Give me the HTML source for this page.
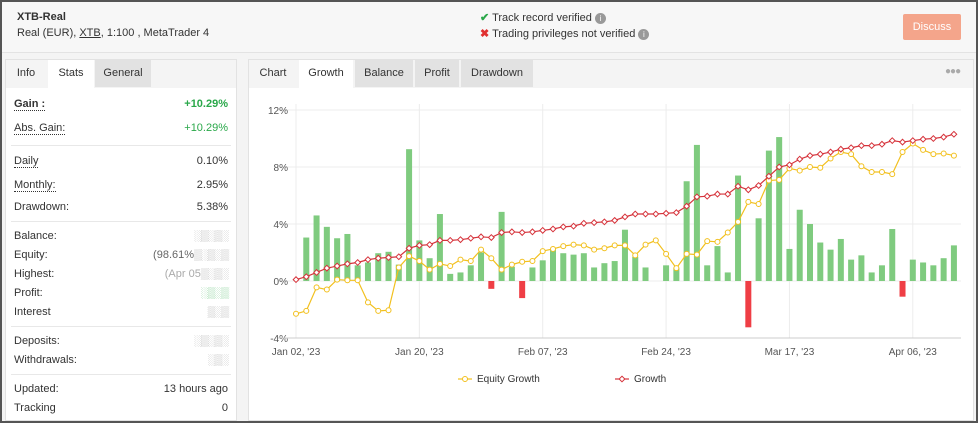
<!DOCTYPE html>
<html><head><meta charset="utf-8"><style>
body{margin:0;width:978px;height:423px;overflow:hidden;font-family:"Liberation Sans",sans-serif;font-size:11px;color:#333;background:#fff}
#frame{position:absolute;left:0;top:0;width:974px;height:419px;border:2px solid #555;background:#f4f4f4}
#hdr{position:absolute;left:0;top:0;width:974px;height:50px;background:#f7f7f7;border-bottom:1px solid #e3e3e3}
.abs{position:absolute}
.panel{position:absolute;background:#fff;border:1px solid #e2e2e2}
.tab{position:absolute;top:0;height:27px;line-height:27px;text-align:center;font-size:11px}
.row{position:absolute;left:8px;right:8px;height:16px;line-height:16px}
.row .v{position:absolute;right:0;top:0}
.dot{border-bottom:1px dotted #333}
.sep{position:absolute;left:5px;right:5px;height:1px;background:#e8e8e8}
.noise{color:#bbb;letter-spacing:-1px}
</style></head><body>
<div id="frame">
<div id="hdr">
 <div class="abs" style="left:15px;top:9px;font-weight:bold;font-size:11px">XTB-Real</div>
 <div class="abs" style="left:15px;top:25px;font-size:11px">Real (EUR), <u>XTB</u>, 1:100 , MetaTrader 4</div>
 <div class="abs" style="left:478px;top:9px;font-size:11px"><span style="color:#2aa84a;font-weight:bold">✔</span> Track record verified <span style="display:inline-block;width:11px;height:11px;border-radius:50%;background:#999;color:#fff;font-size:8px;text-align:center;line-height:11px">i</span></div>
 <div class="abs" style="left:478px;top:25px;font-size:11px"><span style="color:#e03030;font-weight:bold">✖</span> Trading privileges not verified <span style="display:inline-block;width:11px;height:11px;border-radius:50%;background:#999;color:#fff;font-size:8px;text-align:center;line-height:11px">i</span></div>
 <div class="abs" style="left:901px;top:12px;width:58px;height:26px;background:#f4a58b;color:#fff;text-align:center;line-height:26px;border-radius:2px;font-size:11px">Discuss</div>
</div>

<div class="panel" style="left:3px;top:57px;width:230px;height:360px">
 <div class="abs" style="left:0;top:0;width:230px;height:28px;background:#f4f4f4"></div>
 <div class="tab" style="left:0;width:40px">Info</div>
 <div class="tab" style="left:42px;width:46px;background:#fff;height:28px">Stats</div>
 <div class="tab" style="left:89px;width:56px;background:#e2e2e2">General</div>
 <div class="row" style="top:36px"><b class="dot">Gain :</b><span class="v" style="color:#2aa84a;font-weight:bold">+10.29%</span></div>
 <div class="row" style="top:60px"><span class="dot">Abs. Gain:</span><span class="v" style="color:#2aa84a">+10.29%</span></div>
 <div class="sep" style="top:85px"></div>
 <div class="row" style="top:93px"><span class="dot">Daily</span><span class="v">0.10%</span></div>
 <div class="row" style="top:117px"><span class="dot">Monthly:</span><span class="v">2.95%</span></div>
 <div class="row" style="top:139px">Drawdown:<span class="v">5.38%</span></div>
 <div class="sep" style="top:161px"></div>
 <div class="row" style="top:168px">Balance:<span class="v noise">░▒░▒░</span></div>
 <div class="row" style="top:187px">Equity:<span class="v"><span style="color:#666">(98.61%</span><span class="noise">▒░▒░▒</span></span></div>
 <div class="row" style="top:206px">Highest:<span class="v"><span style="color:#aaa">(Apr 05</span><span class="noise">▒░▒░</span></span></div>
 <div class="row" style="top:225px">Profit:<span class="v noise" style="color:#8fd49f">░▒░▒</span></div>
 <div class="row" style="top:244px">Interest<span class="v noise">▒░▒</span></div>
 <div class="sep" style="top:266px"></div>
 <div class="row" style="top:273px">Deposits:<span class="v noise">░▒░▒░</span></div>
 <div class="row" style="top:292px">Withdrawals:<span class="v noise">░▒░</span></div>
 <div class="sep" style="top:314px"></div>
 <div class="row" style="top:321px">Updated:<span class="v">13 hours ago</span></div>
 <div class="row" style="top:340px">Tracking<span class="v">0</span></div>
</div>

<div class="panel" style="left:246px;top:57px;width:724px;height:360px">
 <div class="abs" style="left:0;top:0;width:724px;height:28px;background:#f4f4f4"></div>
 <div class="tab" style="left:0;width:48px">Chart</div>
 <div class="tab" style="left:50px;width:54px;background:#fff;height:28px">Growth</div>
 <div class="tab" style="left:106px;width:58px;background:#e2e2e2">Balance</div>
 <div class="tab" style="left:166px;width:44px;background:#e2e2e2">Profit</div>
 <div class="tab" style="left:212px;width:72px;background:#e2e2e2">Drawdown</div>
 <div class="abs" style="left:696px;top:6px;color:#aaa;font-size:10px;letter-spacing:-1px">●●●</div>
</div>
</div>

<svg id="chart" width="978" height="423" style="position:absolute;left:0;top:0"></svg>

<script>
const xLabels=["Jan 02, '23","Jan 20, '23","Feb 07, '23","Feb 24, '23","Mar 17, '23","Apr 06, '23"];
const xLabelIdx=[0,12,24,36,48,60];
const yTicks=[12,8,4,0,-4];
const growth=[0.1,0.3,0.6,0.9,1.05,1.2,1.3,1.5,1.6,1.65,1.7,2.3,2.5,2.55,2.85,2.85,2.9,3.0,3.1,3.05,3.4,3.45,3.4,3.45,3.55,3.65,3.8,3.85,4.05,4.1,4.15,4.25,4.5,4.7,4.7,4.7,4.75,4.8,5.25,5.9,5.95,6.1,6.1,6.65,6.4,6.7,7.35,8.0,8.15,8.55,8.8,8.9,9.05,9.25,9.35,9.5,9.5,9.6,9.85,9.75,9.85,9.95,10.0,10.1,10.3];
const equity=[-2.3,-2.1,-0.45,-0.6,0.1,0.05,0.05,-1.5,-2.1,-2.05,0.95,1.75,1.4,0.8,1.2,1.05,1.5,1.4,2.2,1.6,0.8,1.15,1.35,1.4,2.1,2.25,2.45,2.55,2.5,2.2,2.3,2.5,2.5,1.8,2.55,2.85,1.9,0.9,1.9,1.85,2.8,2.75,3.4,4.15,5.55,5.4,7.05,7.1,7.9,7.75,8.0,7.95,8.6,9.05,8.9,8.05,7.65,7.65,7.5,9.05,9.65,9.2,8.9,8.95,8.8];
const daily=[0,3.05,4.6,3.8,3.0,3.3,1.1,1.3,1.95,2.05,1.15,9.25,2.85,1.6,4.7,0.5,0.6,1.1,2.0,-0.55,4.85,1.0,-1.2,0.95,1.45,2.2,1.95,1.85,1.95,0.95,1.25,1.4,3.6,1.7,0.95,0,1.1,0.9,7.0,9.55,1.1,2.45,0.6,7.4,-3.25,4.4,9.15,10.1,2.25,5.0,4.0,2.7,2.2,2.95,1.5,1.8,0.6,1.1,3.65,-1.1,1.5,1.3,1.1,1.6,2.5];

const NS="http://www.w3.org/2000/svg";
const svg=document.getElementById('chart');
const x0=296,dx=10.28,plotL=278,plotR=961;
const xs=i=>x0+dx*i;
const ys=v=>281-v*14.25;
function mk(t,a,p){const e=document.createElementNS(NS,t);for(const k in a)e.setAttribute(k,a[k]);(p||svg).appendChild(e);return e;}

yTicks.forEach(t=>{
 const g=mk('line',{x1:plotL,x2:plotR,y1:ys(t),y2:ys(t),stroke:'#ececec'});
 
 
 const l=mk('text',{x:288,y:ys(t)+4,'text-anchor':'end','font-size':10,fill:'#555','font-family':'Liberation Sans'});
 l.textContent=t+'%';
 
 
});
xLabelIdx.forEach((idx,k)=>{
 const g=mk('line',{x1:xs(idx),x2:xs(idx),y1:104,y2:338,stroke:'#ececec'});
 
 
 const l=mk('text',{x:xs(idx),y:355,'text-anchor':'middle','font-size':10,fill:'#555','font-family':'Liberation Sans'});
 l.textContent=xLabels[k];
 
 
});
mk('line',{x1:plotL,x2:plotR,y1:ys(-4),y2:ys(-4),stroke:'#ccc'});

daily.forEach((v,i)=>{
 if(v===0)return;
 const y=Math.min(ys(v),ys(0)),h=Math.abs(ys(v)-ys(0));
 const b=mk('rect',{x:xs(i)-3,y:y,width:6,height:h,fill:v>0?'#7fcb7f':'#ef3e45'});
 
 
});

function series(arr,color,shape,name){
 const pl=mk('polyline',{points:arr.map((v,i)=>xs(i)+','+ys(v)).join(' '),fill:'none',stroke:color,'stroke-width':1.2});
 
 
 arr.forEach((v,i)=>{
  let m;
  if(shape==='c')m=mk('circle',{cx:xs(i),cy:ys(v),r:2.5,fill:'#fff',stroke:color,'stroke-width':1});
  else m=mk('rect',{x:xs(i)-2,y:ys(v)-2,width:4,height:4,fill:'#fff',stroke:color,'stroke-width':1,transform:`rotate(45 ${xs(i)} ${ys(v)})`});
  
  
 });
}
series(equity,'#f2c01e','c','equity-growth');
series(growth,'#d6333b','d','growth');

// legend
const lg=[[458,'#f2c01e','c','Equity Growth'],[615,'#d6333b','d','Growth']];
lg.forEach(([x,c,s,t])=>{
 const line=mk('line',{x1:x,x2:x+14,y1:379,y2:379,stroke:c,'stroke-width':1.2});
 
 
 if(s==='c')mk('circle',{cx:x+7,cy:379,r:2.5,fill:'#fff',stroke:c});
 else mk('rect',{x:x+5,y:377,width:4,height:4,fill:'#fff',stroke:c,transform:`rotate(45 ${x+7} 379)`});
 const tx=mk('text',{x:x+19,y:382,'font-size':10,fill:'#333','font-family':'Liberation Sans'});
 tx.textContent=t;
 
 
});
</script>
</body></html>
